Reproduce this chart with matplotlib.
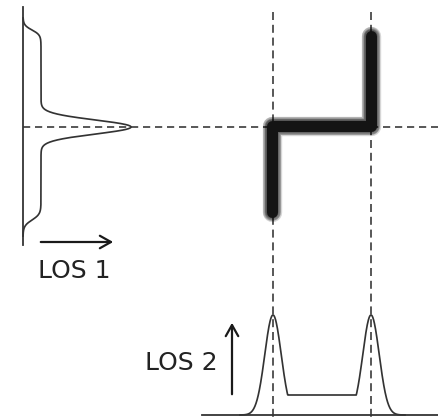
import matplotlib
matplotlib.use("Agg")
import matplotlib.pyplot as plt
import numpy as np

# esquema: perfiles a lo largo de dos lineas de vision (coordenadas en pixeles)
W, H = 438, 419

# perfil izquierdo (LOS 1)
eje1_x = 23
eje1_y = [7, 245]
meseta1_ancho = 18
meseta1_bordes = [30, 220]
meseta1_suave = [5, 6]
pico1_centro = 127
pico1_alto = 90
pico1_sigma = 7

# perfil inferior (LOS 2)
base2_y = 415
base2_x = [202, 438]
picos2_centros = [273, 371]
picos2_alto = 100
picos2_sigma = 8.2
meseta2_alto = 20
meseta2_bordes = [280, 364]

# trazo grueso
trazo_x = [272, 272, 371, 371]
trazo_y = [212, 126, 126, 36]

# lineas guia
guia_h_y = 127
guia_v_x = [273, 371]

etiquetas = ["LOS 1", "LOS 2"]

col = "#333333"
px = 0.72  # pixeles -> puntos

fig = plt.figure(figsize=(W / 100, H / 100), dpi=100)
ax = fig.add_axes([0, 0, 1, 1])
ax.set_xlim(0, W)
ax.set_ylim(H, 0)
ax.axis("off")

# guias punteadas
ax.plot([eje1_x, W], [guia_h_y, guia_h_y], color=col, lw=1.6 * px,
        linestyle=(0, (4.5, 3)))
for gx in guia_v_x:
    ax.plot([gx, gx], [12, H], color=col, lw=1.6 * px,
            linestyle=(0, (5, 3)))

# perfil 1
ax.plot([eje1_x, eje1_x], eje1_y, color=col, lw=1.8 * px)
y = np.linspace(18, 236, 600)
borde = 0.5 * (1 + np.tanh((y - meseta1_bordes[0]) / meseta1_suave[0])) * \
        0.5 * (1 - np.tanh((y - meseta1_bordes[1]) / meseta1_suave[1]))
x = eje1_x + meseta1_ancho * borde + \
    pico1_alto * np.exp(-0.5 * ((y - pico1_centro) / pico1_sigma) ** 2)
ax.plot(x, y, color=col, lw=1.7 * px)

# perfil 2
ax.plot(base2_x, [base2_y, base2_y], color=col, lw=1.8 * px)
x2 = np.linspace(240, 405, 600)
picos = [picos2_alto * np.exp(-0.5 * ((x2 - c) / picos2_sigma) ** 2)
         for c in picos2_centros]
meseta = np.where((x2 > meseta2_bordes[0]) & (x2 < meseta2_bordes[1]),
                  meseta2_alto, 0)
y2 = base2_y - np.maximum.reduce([picos[0], picos[1], meseta])
ax.plot(x2, y2, color=col, lw=1.7 * px)

# trazo grueso difuminado
for i in range(6, 0, -1):
    ax.plot(trazo_x, trazo_y, color="black", lw=(11 + 1.4 * i) * px,
            alpha=0.16, solid_capstyle="round", solid_joinstyle="round")
ax.plot(trazo_x, trazo_y, color="#141414", lw=11 * px,
        solid_capstyle="round", solid_joinstyle="round")

# flechas y textos
ax.annotate("", xy=(116, 242), xytext=(38, 242),
            arrowprops=dict(arrowstyle="->,head_length=0.8,head_width=0.45",
                            color="#1a1a1a", lw=1.6))
ax.annotate("", xy=(232, 320), xytext=(232, 397),
            arrowprops=dict(arrowstyle="->,head_length=0.8,head_width=0.45",
                            color="#1a1a1a", lw=1.6))
ax.text(38, 278, etiquetas[0], fontsize=18, color="#222222", va="baseline")
ax.text(145, 370, etiquetas[1], fontsize=18, color="#222222", va="baseline")

fig.savefig("out.png", dpi=100, facecolor="white")
